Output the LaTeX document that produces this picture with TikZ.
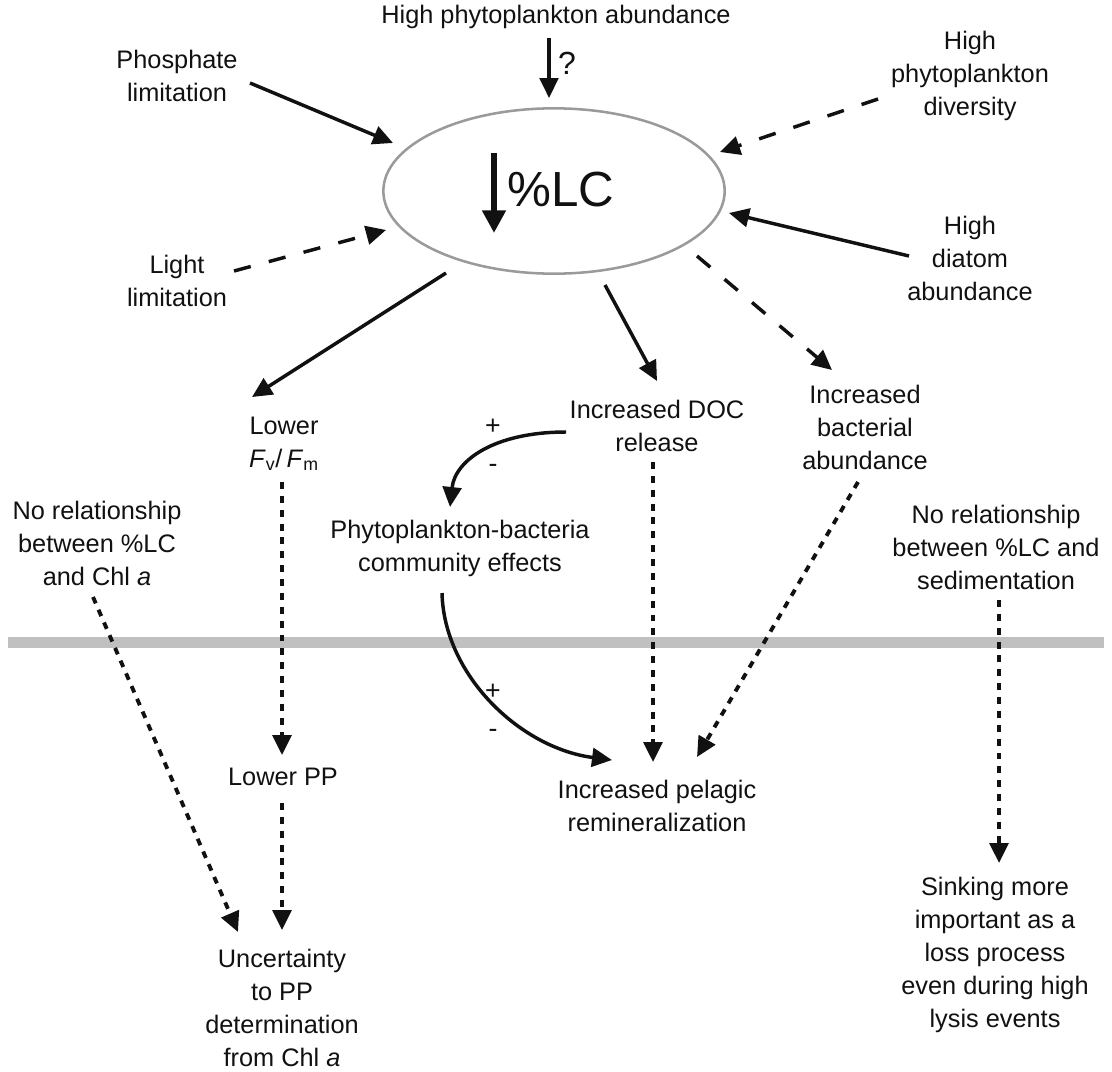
\documentclass[tikz,border=0pt]{standalone}
\usepackage{fontspec}
\setmainfont{Liberation Sans}
\usepackage{tikz}
\usetikzlibrary{arrows.meta,shapes.geometric}
\definecolor{ink}{HTML}{111111}
\definecolor{rim}{HTML}{9A9A9A}
\definecolor{barcol}{HTML}{C0C0C0}
\tikzset{
  lbl/.style={text=ink, font=\fontsize{19}{24.75}\selectfont, align=center, inner sep=0pt},
  bigLbl/.style={text=ink, font=\fontsize{37}{40}\selectfont, inner sep=0pt},
  signLbl/.style={text=ink, font=\fontsize{20}{20}\selectfont, inner sep=0pt},
  solidArr/.style={draw=ink, line width=2.6pt, -{Triangle[length=15pt,width=14pt]}},
  dashArr/.style={solidArr, dash pattern=on 13pt off 14pt},
  dotArr/.style={solidArr, line width=2.9pt, dash pattern=on 5.2pt off 5.2pt},
  bigArr/.style={draw=ink, line width=4.5pt, -{Triangle[length=17pt,width=17pt]}},
  lcShape/.style={ellipse, draw=rim, line width=1.9pt, minimum width=256pt, minimum height=124pt, inner sep=0pt},
}

\begin{document}
\begin{tikzpicture}[x=0.75pt, y=-0.75pt]
  \useasboundingbox (0,0) rectangle (1112,1071);

  % surface / depth divide
  \fill[barcol] (8,637) rectangle (1104,648);

  % central %LC
  \node[lcShape] (lc) at (554,191) {};
  \node[bigLbl] (lctxt) at (561,190) {\%LC};
  \coordinate (lcA) at (494,153);
  \coordinate (lcB) at (494,233);
  \draw[bigArr] (lcA) -- (lcB);

  % drivers
  \node[lbl] (topab) at (556,17) {High phytoplankton abundance};
  \node[lbl] (phos)  at (177,76) {Phosphate\\limitation};
  \node[lbl] (light) at (177,281) {Light\\limitation};
  \node[lbl] (div)   at (970,76) {High\\phytoplankton\\diversity};
  \node[lbl] (diat)  at (970,258) {High\\diatom\\abundance};

  % consequences
  \node[lbl] (lower) at (284,444) {Lower\\\textit{F}\textsubscript{v}/\,\textit{F}\textsubscript{m}};
  \node[lbl] (doc)   at (657,426) {Increased DOC\\release};
  \node[lbl] (bact)  at (865,427) {Increased\\bacterial\\abundance};
  \node[lbl] (comm)  at (460,548) {Phytoplankton-bacteria\\community effects};
  \node[lbl] (nochl) at (97,543) {No relationship\\between \%LC\\and Chl \textit{a}};
  \node[lbl] (nosed) at (996,547) {No relationship\\between \%LC and\\sedimentation};
  \node[lbl] (lowpp) at (283,777) {Lower PP};
  \node[lbl] (remin) at (657,806) {Increased pelagic\\remineralization};
  \node[lbl] (uncert) at (282,1008) {Uncertainty\\to PP\\determination\\from Chl \textit{a}};
  \node[lbl] (sink)  at (995,955) {Sinking more\\important as a\\loss process\\even during high\\lysis events};

  % arrow ends
  \coordinate (topS)  at (549,38);   \coordinate (topE)  at (549,98);
  \coordinate (phosS) at (250,83);   \coordinate (phosE) at (393,143);
  \coordinate (litS)  at (234,271);  \coordinate (litE)  at (386,230);
  \coordinate (divS)  at (878,99);   \coordinate (divE)  at (720,152);
  \coordinate (diaS)  at (909,256);  \coordinate (diaE)  at (729,213);
  \coordinate (lowS)  at (446,273);  \coordinate (lowE)  at (252,397);
  \coordinate (docS)  at (605,285);  \coordinate (docE)  at (657,381);
  \coordinate (bacS)  at (697,256);  \coordinate (bacE)  at (832,370);

  \draw[solidArr] (topS) -- (topE);
  \node[signLbl, font=\fontsize{24}{24}\selectfont] (qm) at (567,63) {?};
  \draw[solidArr] (phosS) -- (phosE);
  \draw[dashArr]  (litS) -- (litE);
  \draw[dashArr]  (divS) -- (divE);
  \draw[solidArr] (diaS) -- (diaE);
  \draw[solidArr] (lowS) -- (lowE);
  \draw[solidArr] (docS) -- (docE);
  \draw[dashArr]  (bacS) -- (bacE);

  % DOC -> community
  \coordinate (c1S) at (566,432);
  \coordinate (c1E) at (450,507);
  \draw[solidArr] (c1S) .. controls (495,432) and (455,460) .. (c1E);
  \node[signLbl] (p1) at (493,427) {+};
  \node[signLbl] (m1) at (493,468) {-};

  % community -> remineralization
  \coordinate (c2S) at (442,593);
  \coordinate (c2E) at (612,760);
  \draw[solidArr] (c2S) .. controls (444,675) and (520,748) .. (c2E);
  \node[signLbl] (p2) at (493,692) {+};
  \node[signLbl] (m2) at (493,733) {-};

  % dotted links
  \coordinate (d1S) at (282,482);  \coordinate (d1E) at (282,755);
  \coordinate (d2S) at (282,803);  \coordinate (d2E) at (282,930);
  \coordinate (d3S) at (93,597);   \coordinate (d3E) at (238,932);
  \coordinate (d4S) at (653,462);  \coordinate (d4E) at (653,762);
  \coordinate (d5S) at (858,482);  \coordinate (d5E) at (697,757);
  \coordinate (d6S) at (999,600);  \coordinate (d6E) at (999,863);
  \draw[dotArr] (d1S) -- (d1E);
  \draw[dotArr] (d2S) -- (d2E);
  \draw[dotArr] (d3S) -- (d3E);
  \draw[dotArr] (d4S) -- (d4E);
  \draw[dotArr] (d5S) -- (d5E);
  \draw[dotArr] (d6S) -- (d6E);
\end{tikzpicture}
\end{document}
